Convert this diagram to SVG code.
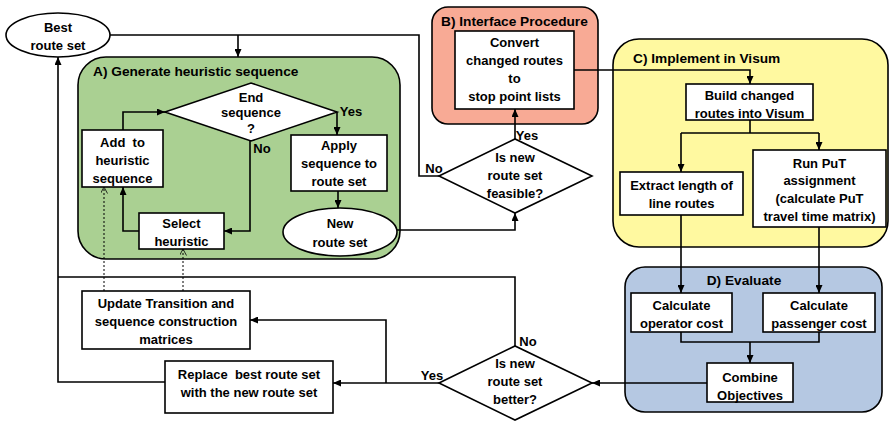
<svg xmlns="http://www.w3.org/2000/svg" width="891" height="422" viewBox="0 0 891 422">
<defs>
<marker id="ah" viewBox="0 0 8 7" refX="8" refY="3.5" markerWidth="8" markerHeight="7" markerUnits="userSpaceOnUse" orient="auto"><path d="M0,0 L8,3.5 L0,7 z" fill="#000"/></marker>
<marker id="oh" viewBox="0 0 7 7" refX="6.5" refY="3.5" markerWidth="7" markerHeight="7" markerUnits="userSpaceOnUse" orient="auto"><path d="M0,0 L6.5,3.5 L0,7" fill="none" stroke="#000" stroke-width="0.8"/></marker>
</defs>
<style>
.c{stroke:#000;stroke-width:1.6}
.n{fill:#fff;stroke:#000;stroke-width:1.6}
.t{font-family:"Liberation Sans",Arial,sans-serif;font-weight:bold;font-size:13px;fill:#000;text-anchor:middle;white-space:pre}
.h{font-family:"Liberation Sans",Arial,sans-serif;font-weight:bold;font-size:13.7px;fill:#000}
.l{fill:none;stroke:#000;stroke-width:1.6}
.a{marker-end:url(#ah)}
.d{fill:none;stroke:#000;stroke-width:1;stroke-dasharray:2,2;marker-end:url(#oh)}
</style>
<rect width="891" height="422" fill="#fff"/>
<g id="containerA"><rect x="78" y="57" width="322" height="202" rx="28" fill="#aad092" class="c"/><text class="h" x="93" y="76">A) Generate heuristic sequence</text></g>
<g id="containerB"><rect x="432" y="7" width="166" height="117" rx="16" fill="#f8aa95" class="c"/><text class="h" x="441" y="26">B) Interface Procedure</text></g>
<g id="containerC"><rect x="613" y="39" width="275" height="208" rx="26" fill="#fff9a0" class="c"/><text class="h" x="633" y="63">C) Implement in Visum</text></g>
<g id="containerD"><rect x="625" y="267" width="257" height="145" rx="20" fill="#b5c8e2" class="c"/><text class="h" x="744" y="285" text-anchor="middle">D) Evaluate</text></g>
<g id="connectors">
<path class="l" d="M439,176 H419 V35 H110"/>
<path class="l a" d="M238,35 V57"/>
<path class="l a" d="M123,130 V112 H165"/>
<path class="l a" d="M337,112 V135"/>
<path class="l a" d="M250,141 V231 H224"/>
<path class="l a" d="M139,231 H123 V187"/>
<path class="l a" d="M338,191 V208"/>
<path class="l a" d="M396,230 H515 V213"/>
<path class="l a" d="M515,139 V109"/>
<path class="l a" d="M574,70 H750 V84"/>
<path class="l" d="M750,120 V133 M681,133 H819"/>
<path class="l a" d="M681,133 V172"/>
<path class="l a" d="M819,133 V150"/>
<path class="l a" d="M681,215 V293"/>
<path class="l a" d="M819,227 V293"/>
<path class="l" d="M681,332 V342 H819 V332"/>
<path class="l a" d="M750,342 V363"/>
<path class="l a" d="M707,383 H592"/>
<path class="l a" d="M439,383 H333"/>
<path class="l a" d="M386,383 V320 H250"/>
<path class="l a" d="M165,382 H58 V57"/>
<path class="l" d="M515,346 V277 H58"/>
<path class="d" d="M104,291 V187"/>
<path class="d" d="M183,291 V249"/>
</g>
<g id="best"><ellipse cx="58" cy="35" rx="52" ry="22" class="n"/><text class="t" x="58" y="32">Best</text><text class="t" x="58" y="50">route set</text></g>
<g id="endseq"><polygon points="165,112 251,83 337,112 251,141" class="n"/><text class="t" x="251" y="102">End</text><text class="t" x="251" y="117">sequence</text><text class="t" x="251" y="133">?</text></g>
<g id="add"><rect x="82" y="130" width="81" height="57" class="n"/><text class="t" x="122.5" y="147">Add  to</text><text class="t" x="122.5" y="165">heuristic</text><text class="t" x="122.5" y="183">sequence</text></g>
<g id="select"><rect x="139" y="213" width="85" height="36" class="n"/><text class="t" x="181.5" y="228">Select</text><text class="t" x="181.5" y="246">heuristic</text></g>
<g id="apply"><rect x="291" y="135" width="96" height="56" class="n"/><text class="t" x="339" y="150">Apply</text><text class="t" x="339" y="168">sequence to</text><text class="t" x="339" y="186">route set</text></g>
<g id="newset"><ellipse cx="340" cy="232" rx="57" ry="24" class="n"/><text class="t" x="340" y="228">New</text><text class="t" x="340" y="247">route set</text></g>
<g id="feasible"><polygon points="439,176 515,139 592,176 515,213" class="n"/><text class="t" x="515" y="162">Is new</text><text class="t" x="515" y="180">route set</text><text class="t" x="515" y="198">feasible?</text></g>
<g id="convert"><rect x="455" y="31" width="119" height="78" class="n"/><text class="t" x="514.5" y="47">Convert</text><text class="t" x="514.5" y="65">changed routes</text><text class="t" x="514.5" y="83">to</text><text class="t" x="514.5" y="101">stop point lists</text></g>
<g id="build"><rect x="686" y="84" width="127" height="36" class="n"/><text class="t" x="749.5" y="100">Build changed</text><text class="t" x="749.5" y="118">routes into Visum</text></g>
<g id="extract"><rect x="620" y="172" width="123" height="43" class="n"/><text class="t" x="681.5" y="190">Extract length of</text><text class="t" x="681.5" y="208">line routes</text></g>
<g id="run"><rect x="753" y="150" width="133" height="77" class="n"/><text class="t" x="819.5" y="168">Run PuT</text><text class="t" x="819.5" y="185">assignment</text><text class="t" x="819.5" y="203">(calculate PuT</text><text class="t" x="819.5" y="221">travel time matrix)</text></g>
<g id="operator"><rect x="631" y="293" width="101" height="39" class="n"/><text class="t" x="681.5" y="310">Calculate</text><text class="t" x="681.5" y="328">operator cost</text></g>
<g id="passenger"><rect x="763" y="293" width="112" height="39" class="n"/><text class="t" x="819" y="310">Calculate</text><text class="t" x="819" y="328">passenger cost</text></g>
<g id="combine"><rect x="707" y="363" width="86" height="39" class="n"/><text class="t" x="750" y="382">Combine</text><text class="t" x="750" y="400">Objectives</text></g>
<g id="better"><polygon points="439,383 515,346 592,383 515,420" class="n"/><text class="t" x="515" y="368">Is new</text><text class="t" x="515" y="386">route set</text><text class="t" x="515" y="404">better?</text></g>
<g id="update"><rect x="82" y="291" width="168" height="58" class="n"/><text class="t" x="166" y="308">Update Transition and</text><text class="t" x="166" y="326">sequence construction</text><text class="t" x="166" y="344">matrices</text></g>
<g id="replace"><rect x="165" y="361" width="168" height="52" class="n"/><text class="t" x="249" y="379">Replace  best route set</text><text class="t" x="249" y="397">with the new route set</text></g>
<g id="labels">
<text class="t" x="351" y="116">Yes</text>
<text class="t" x="262" y="153">No</text>
<text class="t" x="434" y="173">No</text>
<text class="t" x="527" y="140">Yes</text>
<text class="t" x="528" y="346">No</text>
<text class="t" x="432" y="380">Yes</text>
</g>
</svg>
